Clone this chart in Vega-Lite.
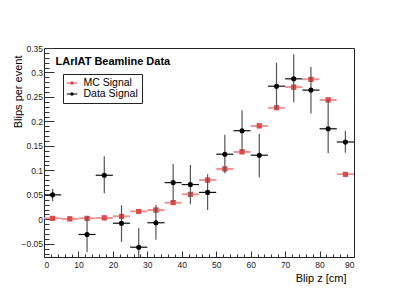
{
  "$schema": "https://vega.github.io/schema/vega-lite/v6.json",
  "width": 310,
  "height": 209,
  "autosize": "none",
  "padding": {"left": 44, "top": 48, "right": 45, "bottom": 51},
  "config": {
    "font": "Liberation Sans",
    "view": {"stroke": "#222", "strokeWidth": 1},
    "axis": {"grid": false, "domain": false, "tickColor": "#333", "labelColor": "#222", "labelFontSize": 8.5, "titleFontSize": 11, "titleFontWeight": "normal", "titleColor": "#000"}
  },
  "datasets": {
    "mc": [
      {"series": "MC Signal", "z": 2.5, "zlo": 0, "zhi": 5, "v": 0.002},
      {"series": "MC Signal", "z": 7.5, "zlo": 5, "zhi": 10, "v": 0.001},
      {"series": "MC Signal", "z": 12.5, "zlo": 10, "zhi": 15, "v": 0.002},
      {"series": "MC Signal", "z": 17.5, "zlo": 15, "zhi": 20, "v": 0.003},
      {"series": "MC Signal", "z": 22.5, "zlo": 20, "zhi": 25, "v": 0.006},
      {"series": "MC Signal", "z": 27.5, "zlo": 25, "zhi": 30, "v": 0.016},
      {"series": "MC Signal", "z": 32.5, "zlo": 30, "zhi": 35, "v": 0.019},
      {"series": "MC Signal", "z": 37.5, "zlo": 35, "zhi": 40, "v": 0.034},
      {"series": "MC Signal", "z": 42.5, "zlo": 40, "zhi": 45, "v": 0.051},
      {"series": "MC Signal", "z": 47.5, "zlo": 45, "zhi": 50, "v": 0.080},
      {"series": "MC Signal", "z": 52.5, "zlo": 50, "zhi": 55, "v": 0.103},
      {"series": "MC Signal", "z": 57.5, "zlo": 55, "zhi": 60, "v": 0.138},
      {"series": "MC Signal", "z": 62.5, "zlo": 60, "zhi": 65, "v": 0.191},
      {"series": "MC Signal", "z": 67.5, "zlo": 65, "zhi": 70, "v": 0.228},
      {"series": "MC Signal", "z": 72.5, "zlo": 70, "zhi": 75, "v": 0.270},
      {"series": "MC Signal", "z": 77.5, "zlo": 75, "zhi": 80, "v": 0.286},
      {"series": "MC Signal", "z": 82.5, "zlo": 80, "zhi": 85, "v": 0.244},
      {"series": "MC Signal", "z": 87.5, "zlo": 85, "zhi": 90, "v": 0.092}
    ],
    "data": [
      {"series": "Data Signal", "z": 2.5, "zlo": 0, "zhi": 5, "v": 0.050, "lo": 0.037, "hi": 0.062},
      {"series": "Data Signal", "z": 12.5, "zlo": 10, "zhi": 15, "v": -0.031, "lo": -0.067, "hi": 0.005},
      {"series": "Data Signal", "z": 17.5, "zlo": 15, "zhi": 20, "v": 0.090, "lo": 0.053, "hi": 0.129},
      {"series": "Data Signal", "z": 22.5, "zlo": 20, "zhi": 25, "v": -0.008, "lo": -0.046, "hi": 0.029},
      {"series": "Data Signal", "z": 27.5, "zlo": 25, "zhi": 30, "v": -0.057, "lo": -0.096, "hi": -0.018},
      {"series": "Data Signal", "z": 32.5, "zlo": 30, "zhi": 35, "v": -0.007, "lo": -0.042, "hi": 0.029},
      {"series": "Data Signal", "z": 37.5, "zlo": 35, "zhi": 40, "v": 0.075, "lo": 0.035, "hi": 0.113},
      {"series": "Data Signal", "z": 42.5, "zlo": 40, "zhi": 45, "v": 0.071, "lo": 0.031, "hi": 0.111},
      {"series": "Data Signal", "z": 47.5, "zlo": 45, "zhi": 50, "v": 0.055, "lo": 0.019, "hi": 0.092},
      {"series": "Data Signal", "z": 52.5, "zlo": 50, "zhi": 55, "v": 0.133, "lo": 0.094, "hi": 0.173},
      {"series": "Data Signal", "z": 57.5, "zlo": 55, "zhi": 60, "v": 0.181, "lo": 0.140, "hi": 0.223},
      {"series": "Data Signal", "z": 62.5, "zlo": 60, "zhi": 65, "v": 0.131, "lo": 0.086, "hi": 0.175},
      {"series": "Data Signal", "z": 67.5, "zlo": 65, "zhi": 70, "v": 0.272, "lo": 0.226, "hi": 0.320},
      {"series": "Data Signal", "z": 72.5, "zlo": 70, "zhi": 75, "v": 0.287, "lo": 0.239, "hi": 0.337},
      {"series": "Data Signal", "z": 77.5, "zlo": 75, "zhi": 80, "v": 0.264, "lo": 0.216, "hi": 0.311},
      {"series": "Data Signal", "z": 82.5, "zlo": 80, "zhi": 85, "v": 0.185, "lo": 0.135, "hi": 0.243},
      {"series": "Data Signal", "z": 87.5, "zlo": 85, "zhi": 90, "v": 0.158, "lo": 0.136, "hi": 0.181}
    ]
  },
  "resolve": {"axis": {"x": "independent", "y": "independent"}},
  "layer": [
    {
      "data": {"name": "mc"},
      "mark": {"type": "point", "filled": true, "size": 250, "opacity": 1, "clip": true},
      "encoding": {
        "x": {"field": "z", "type": "quantitative", "scale": {"domain": [0, 90], "nice": false, "zero": false},
          "axis": {"orient": "bottom", "title": "Blip z [cm]", "values": [0, 10, 20, 30, 40, 50, 60, 70, 80, 90], "tickSize": -6, "labelPadding": 9, "titleAnchor": "end", "titleAlign": "right", "titleX": 302, "titleY": 21, "titleBaseline": "middle"}},
        "y": {"field": "v", "type": "quantitative", "scale": {"domain": [-0.077, 0.35], "nice": false, "zero": false},
          "axis": {"orient": "left", "title": "Blips per event", "values": [-0.05, 0, 0.05, 0.1, 0.15, 0.2, 0.25, 0.3, 0.35], "format": "~g", "tickSize": -10, "labelPadding": 11.5, "titleAnchor": "end", "titleAlign": "right", "titleAngle": -90, "titleX": -26, "titleY": 7, "titleBaseline": "middle"}},
        "color": {"field": "series", "type": "nominal",
          "scale": {"domain": ["MC Signal", "Data Signal"], "range": ["#dc4a4a", "#000000"]},
          "legend": {"orient": "none", "legendX": 19, "legendY": 26, "title": null, "strokeColor": "#222", "fillColor": "#ffffff", "padding": 3.5, "labelFontSize": 10.5, "labelColor": "#000", "labelOffset": 6, "symbolSize": 110, "symbolStrokeWidth": 0, "rowPadding": 0}},
        "shape": {"field": "series", "type": "nominal",
          "scale": {"domain": ["MC Signal", "Data Signal"], "range": ["M-1,-0.08H1V0.08H-1Z M-0.3,-0.3H0.3V0.3H-0.3Z", "M-1,-0.08H1V0.08H-1Z M0.32,0A0.32,0.32 0 1,1 -0.32,0A0.32,0.32 0 1,1 0.32,0Z"]},
          "legend": {"orient": "none", "legendX": 19, "legendY": 26, "title": null, "strokeColor": "#222", "fillColor": "#ffffff", "padding": 3.5, "labelFontSize": 10.5, "labelColor": "#000", "labelOffset": 6, "symbolSize": 110, "symbolStrokeWidth": 0, "rowPadding": 0}}
      }
    },
    {
      "data": {"name": "mc"},
      "mark": {"type": "rule", "color": "#ee9494", "strokeWidth": 1.7, "clip": true},
      "encoding": {
        "x": {"field": "zlo", "type": "quantitative",
          "axis": {"orient": "bottom", "title": "LArIAT Beamline Data", "titleFontWeight": "bold", "titleFontSize": 11, "titleAnchor": "start", "titleAlign": "left", "titleBaseline": "alphabetic", "titleX": 11, "titleY": -193, "labels": false, "values": [2, 4, 6, 8, 12, 14, 16, 18, 22, 24, 26, 28, 32, 34, 36, 38, 42, 44, 46, 48, 52, 54, 56, 58, 62, 64, 66, 68, 72, 74, 76, 78, 82, 84, 86, 88], "tickSize": -3}},
        "x2": {"field": "zhi"},
        "y": {"field": "v", "type": "quantitative",
          "axis": {"orient": "left", "title": null, "labels": false, "values": [-0.07, -0.06, -0.04, -0.03, -0.02, -0.01, 0.01, 0.02, 0.03, 0.04, 0.06, 0.07, 0.08, 0.09, 0.11, 0.12, 0.13, 0.14, 0.16, 0.17, 0.18, 0.19, 0.21, 0.22, 0.23, 0.24, 0.26, 0.27, 0.28, 0.29, 0.31, 0.32, 0.33, 0.34], "tickSize": -5}}
      }
    },
    {
      "data": {"name": "mc"},
      "mark": {"type": "point", "shape": "square", "filled": true, "size": 26, "opacity": 1, "clip": true, "color": "#dc4a4a"},
      "encoding": {
        "x": {"field": "z", "type": "quantitative", "axis": null},
        "y": {"field": "v", "type": "quantitative", "axis": null}
      }
    },
    {
      "data": {"name": "data"},
      "mark": {"type": "rule", "color": "#555555", "strokeWidth": 1.2, "clip": true},
      "encoding": {
        "x": {"field": "z", "type": "quantitative", "axis": null},
        "y": {"field": "lo", "type": "quantitative", "axis": null},
        "y2": {"field": "hi"}
      }
    },
    {
      "data": {"name": "data"},
      "mark": {"type": "rule", "color": "#111111", "strokeWidth": 1.2, "clip": true},
      "encoding": {
        "x": {"field": "zlo", "type": "quantitative", "axis": null},
        "x2": {"field": "zhi"},
        "y": {"field": "v", "type": "quantitative", "axis": null}
      }
    },
    {
      "data": {"name": "data"},
      "mark": {"type": "point", "shape": "circle", "filled": true, "size": 26, "opacity": 1, "clip": true, "color": "#000000"},
      "encoding": {
        "x": {"field": "z", "type": "quantitative", "axis": null},
        "y": {"field": "v", "type": "quantitative", "axis": null}
      }
    }
  ]
}
